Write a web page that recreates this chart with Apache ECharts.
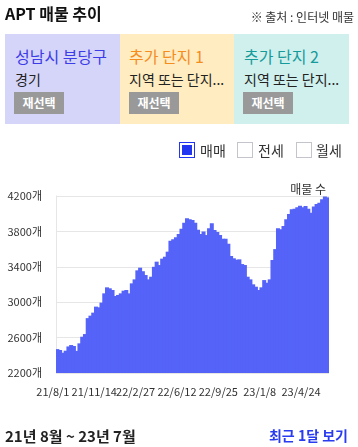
<!DOCTYPE html>
<html>
<head>
<meta charset="utf-8">
<script src="https://cdn.jsdelivr.net/npm/echarts@6/dist/echarts.min.js"></script>
<style>
html,body{margin:0;padding:0;width:358px;height:447px;overflow:hidden;background:#fff;font-family:"Noto Sans CJK KR","Noto Sans",sans-serif;color:#222;}
.abs{position:absolute;white-space:nowrap;}
#chart{position:absolute;left:0;top:0;width:358px;height:447px;}
.box{position:absolute;top:34px;height:90px;}
.box .h{position:absolute;top:12px;font-size:16px;line-height:20px;white-space:nowrap;}
.box .s{position:absolute;top:36px;font-size:14px;line-height:18px;color:#222;white-space:nowrap;}
.box .b{position:absolute;top:58px;left:9px;width:50px;height:22px;background:#999;color:#fff;font-weight:bold;font-size:12px;line-height:22px;text-align:center;}
.cb{position:absolute;top:142px;width:14px;height:14px;border:1px solid #c4c4cc;background:#fff;}
.cb.on{border-color:#2236f2;background:#2236f2;box-shadow:inset 0 0 0 2px #fff;}
.lt{position:absolute;top:141px;font-size:14px;line-height:18px;color:#333;}
</style>
</head>
<body>
<div id="chart"></div>
<div class="abs" style="left:5px;top:3px;font-size:16px;line-height:20px;font-weight:bold;color:#111;">APT 매물 추이</div>
<div class="abs" style="right:4px;top:9px;font-size:12px;line-height:16px;color:#333;">※ 출처 : 인터넷 매물</div>

<div class="box" style="left:5px;width:115px;background:#d5d5fa;">
  <div class="h" style="left:10px;color:#3c3ce8;">성남시 분당구</div>
  <div class="s" style="left:10px;">경기</div>
  <div class="b">재선택</div>
</div>
<div class="box" style="left:120px;width:114px;background:#ffedc1;">
  <div class="h" style="left:9px;color:#f58c1e;">추가 단지 1</div>
  <div class="s" style="left:9px;">지역 또는 단지...</div>
  <div class="b">재선택</div>
</div>
<div class="box" style="left:234px;width:115px;background:#d0f0ee;">
  <div class="h" style="left:10px;color:#169b9b;">추가 단지 2</div>
  <div class="s" style="left:10px;">지역 또는 단지...</div>
  <div class="b">재선택</div>
</div>

<div class="cb on" style="left:179px;"></div><div class="lt" style="left:200px;">매매</div>
<div class="cb" style="left:237px;"></div><div class="lt" style="left:258px;">전세</div>
<div class="cb" style="left:296px;"></div><div class="lt" style="left:316px;">월세</div>

<div class="abs" style="left:5px;top:425px;font-size:15px;line-height:21px;font-weight:bold;color:#222;">21년 8월 ~ 23년 7월</div>
<div class="abs" style="right:10px;top:425px;font-size:14px;line-height:20px;font-weight:bold;color:#2a3cf0;">최근 1달 보기</div>

<script>
// Weekly dates (category axis)
const dates = [
  '21/8/1','21/8/8','21/8/15','21/8/22','21/8/29','21/9/5','21/9/12','21/9/19','21/9/26','21/10/3',
  '21/10/10','21/10/17','21/10/24','21/10/31','21/11/7','21/11/14','21/11/21','21/11/28','21/12/5','21/12/12',
  '21/12/19','21/12/26','22/1/2','22/1/9','22/1/16','22/1/23','22/1/30','22/2/6','22/2/13','22/2/20',
  '22/2/27','22/3/6','22/3/13','22/3/20','22/3/27','22/4/3','22/4/10','22/4/17','22/4/24','22/5/1',
  '22/5/8','22/5/15','22/5/22','22/5/29','22/6/5','22/6/12','22/6/19','22/6/26','22/7/3','22/7/10',
  '22/7/17','22/7/24','22/7/31','22/8/7','22/8/14','22/8/21','22/8/28','22/9/4','22/9/11','22/9/18',
  '22/9/25','22/10/2','22/10/9','22/10/16','22/10/23','22/10/30','22/11/6','22/11/13','22/11/20','22/11/27',
  '22/12/4','22/12/11','22/12/18','22/12/25','23/1/1','23/1/8','23/1/15','23/1/22','23/1/29','23/2/5',
  '23/2/12','23/2/19','23/2/26','23/3/5','23/3/12','23/3/19','23/3/26','23/4/2','23/4/9','23/4/16',
  '23/4/24','23/4/30','23/5/7','23/5/14','23/5/21','23/5/28','23/6/4','23/6/11','23/6/18'
];
// 매매 매물 수
const listings = [
  2470,2460,2429,2452,2500,2516,2505,2450,2535,2610,
  2640,2820,2848,2882,2950,2942,2995,3100,3168,3157,
  3138,3070,3082,3100,3130,3138,3100,3213,3258,3360,
  3390,3350,3307,3258,3288,3400,3458,3420,3492,3514,
  3571,3695,3710,3733,3770,3830,3898,3948,3936,3929,
  3898,3820,3770,3800,3760,3835,3891,3816,3793,3760,
  3718,3718,3660,3522,3496,3480,3484,3431,3420,3288,
  3258,3202,3175,3138,3168,3250,3220,3258,3477,3600,
  3835,3823,3860,3936,3997,4050,4057,4072,4090,4072,
  4087,4057,4012,4080,4110,4125,4163,4193,4185
];
const yMin = 2200, yMax = 4200, yStep = 400;
const barColor = '#5563f8';

const chart = echarts.init(document.getElementById('chart'), null, {renderer: 'canvas'});
chart.setOption({
  animation: false,
  textStyle: {fontFamily: '"Noto Sans CJK KR", "Noto Sans", sans-serif'},
  grid: {left: 56, right: 29, top: 196, bottom: 74, containLabel: false},
  graphic: [{
    type: 'text', right: 32, top: 183,
    style: {text: '매물 수', fontSize: 12, fill: '#333', fontFamily: '"Noto Sans CJK KR", sans-serif'}
  }],
  xAxis: {
    type: 'category',
    data: dates,
    boundaryGap: true,
    axisLine: {show: false},
    axisTick: {show: false},
    axisLabel: {interval: 14, margin: 13, fontSize: 11, color: '#333', padding: [0, 9, 0, 0]},
    splitLine: {show: false}
  },
  yAxis: {
    type: 'value',
    min: yMin, max: yMax, interval: yStep,
    axisLine: {show: true, lineStyle: {color: '#e6e6e6'}},
    axisTick: {show: false},
    axisLabel: {formatter: function (v) { return String(v) + '개'; }, fontSize: 11, color: '#333', margin: 14},
    splitLine: {lineStyle: {color: '#e6e6e6'}}
  },
  series: [{
    name: '매매',
    type: 'bar',
    data: listings,
    barWidth: 4,
    large: false,
    itemStyle: {color: barColor}
  }]
});
</script>
</body>
</html>
